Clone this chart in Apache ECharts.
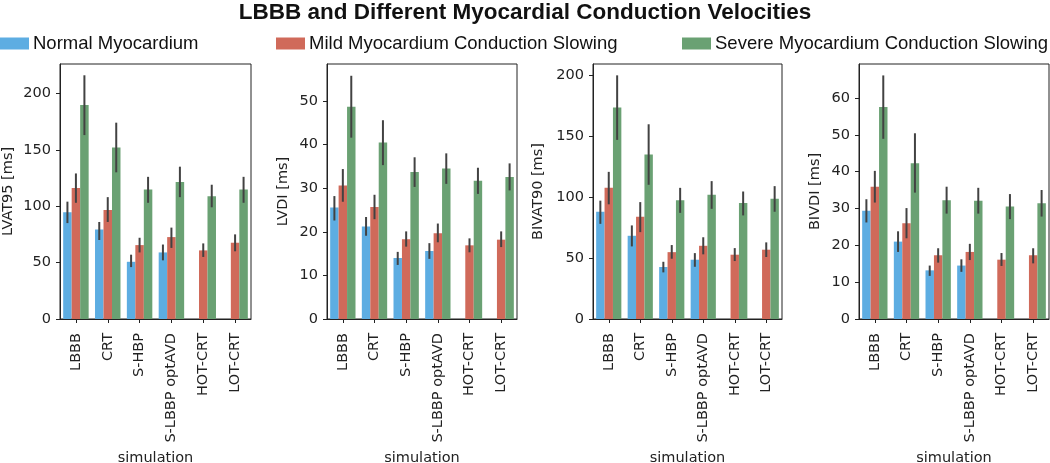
<!DOCTYPE html>
<html>
<head>
<meta charset="utf-8">
<script src="https://cdn.jsdelivr.net/npm/echarts@6/dist/echarts.min.js"></script>
<style>
html,body{margin:0;padding:0;background:#fff;}
#chart{width:1050px;height:463px;}
</style>
</head>
<body>
<div id="chart"></div>
<script>
// ---------- DATA ----------
const categories = ['LBBB', 'CRT', 'S-HBP', 'S-LBBP optAVD', 'HOT-CRT', 'LOT-CRT'];
const seriesNames = ['Normal Myocardium', 'Mild Myocardium Conduction Slowing', 'Severe Myocardium Conduction Slowing'];

// LVAT95 [ms]
const lvat95Normal = [94.7, 79.4, 50.7, 59.0, null, null];
const lvat95Mild = [116.2, 96.5, 65.5, 72.6, 60.8, 67.6];
const lvat95Severe = [189.7, 152.0, 114.7, 121.5, 108.8, 114.7];
const lvat95NormalCI = [[85, 104], [70, 86], [46, 57], [52, 66], null, null];
const lvat95MildCI = [[103, 129], [86, 108], [59, 72], [63, 81], [55, 67], [60, 75]];
const lvat95SevereCI = [[163, 216], [130, 174], [103, 126], [108, 135], [99, 119], [103, 126]];

// LVDI [ms]
const lvdiNormal = [25.6, 21.2, 14.0, 15.6, null, null];
const lvdiMild = [30.6, 25.7, 18.3, 19.7, 16.9, 18.2];
const lvdiSevere = [48.7, 40.5, 33.7, 34.5, 31.7, 32.6];
const lvdiNormalCI = [[22.6, 28.2], [19.1, 23.4], [12.4, 15.4], [13.8, 17.4], null, null];
const lvdiMildCI = [[26.9, 34.4], [22.9, 28.5], [16.6, 20.1], [17.6, 21.9], [15.3, 18.5], [16.5, 20.1]];
const lvdiSevereCI = [[41.6, 55.8], [35.3, 45.6], [30.3, 37.1], [31.0, 38.0], [28.7, 34.7], [29.5, 35.7]];

// BIVAT90 [ms]
const bivat90Normal = [87.9, 68.2, 42.6, 48.6, null, null];
const bivat90Mild = [107.5, 83.8, 54.8, 60.0, 52.7, 56.8];
const bivat90Severe = [173.3, 134.8, 97.4, 101.8, 95.0, 98.5];
const bivat90NormalCI = [[78, 97], [59.5, 76.7], [38.2, 46.9], [42.8, 54], null, null];
const bivat90MildCI = [[94, 120.6], [71.2, 95.8], [49.4, 60.6], [53, 67], [47.5, 58.1], [50.8, 62.8]];
const bivat90SevereCI = [[146.8, 199.7], [110, 159.6], [87, 107.5], [90.3, 113], [84.9, 104.5], [87.9, 108.9]];

// BIVDI [ms]
const bivdiNormal = [29.4, 21.0, 13.2, 14.5, null, null];
const bivdiMild = [35.9, 26.0, 17.3, 18.2, 16.1, 17.3];
const bivdiSevere = [57.5, 42.3, 32.2, 32.1, 30.5, 31.4];
const bivdiNormalCI = [[26.2, 32.5], [18.2, 23.8], [11.7, 14.5], [12.8, 16.2], null, null];
const bivdiMildCI = [[31.6, 40.2], [21.9, 30.1], [15.3, 19.2], [16.0, 20.4], [14.4, 17.9], [15.1, 19.2]];
const bivdiSevereCI = [[48.9, 66.1], [34.3, 50.4], [28.6, 35.9], [28.6, 35.6], [27.1, 33.9], [27.8, 35.0]];

const lvat95Ticks = [0, 50, 100, 150, 200];
const lvdiTicks = [0, 10, 20, 30, 40, 50];
const bivat90Ticks = [0, 50, 100, 150, 200];
const bivdiTicks = [0, 10, 20, 30, 40, 50, 60];

// ---------- LAYOUT / STYLE ----------
const colors = ['#5dade2', '#d06a5a', '#6aa173'];
const panels = [
  {name: 'LVAT95 [ms]', vals: [lvat95Normal, lvat95Mild, lvat95Severe], cis: [lvat95NormalCI, lvat95MildCI, lvat95SevereCI], ticks: lvat95Ticks, max: 226, left: 60, width: 191, nameGap: 44},
  {name: 'LVDI [ms]', vals: [lvdiNormal, lvdiMild, lvdiSevere], cis: [lvdiNormalCI, lvdiMildCI, lvdiSevereCI], ticks: lvdiTicks, max: 58.5, left: 327, width: 190, nameGap: 36},
  {name: 'BIVAT90 [ms]', vals: [bivat90Normal, bivat90Mild, bivat90Severe], cis: [bivat90NormalCI, bivat90MildCI, bivat90SevereCI], ticks: bivat90Ticks, max: 209, left: 593, width: 189, nameGap: 47},
  {name: 'BIVDI [ms]', vals: [bivdiNormal, bivdiMild, bivdiSevere], cis: [bivdiNormalCI, bivdiMildCI, bivdiSevereCI], ticks: bivdiTicks, max: 69.2, left: 859, width: 190, nameGap: 36}
];
const TOP = 64, HEIGHT = 255;
const tickFont = 'DejaVu Sans';
const fs = 14.5;

const grid = [], xAxis = [], yAxis = [], series = [];
panels.forEach((p, gi) => {
  grid.push({left: p.left, top: TOP, width: p.width, height: HEIGHT, show: true, borderColor: '#222', borderWidth: 1,
    backgroundColor: 'transparent', containLabel: false, outerBoundsMode: 'none'});
  xAxis.push({
    type: 'category', gridIndex: gi, data: categories,
    name: 'simulation', nameLocation: 'middle', nameGap: 130,
    nameTextStyle: {fontFamily: tickFont, fontSize: fs, color: '#222'},
    axisLine: {show: true, lineStyle: {color: '#222', width: 1}},
    axisTick: {show: true, alignWithLabel: true, length: 4, lineStyle: {color: '#222'}},
    axisLabel: {rotate: 90, interval: 0, margin: 14, fontFamily: tickFont, fontSize: fs, color: '#222'},
    splitLine: {show: false}
  });
  yAxis.push({
    type: 'value', gridIndex: gi, min: 0, max: p.max,
    name: p.name, nameLocation: 'middle', nameGap: p.nameGap, nameRotate: 90,
    nameTextStyle: {fontFamily: tickFont, fontSize: fs, color: '#222'},
    axisLine: {show: true, lineStyle: {color: '#222', width: 1}},
    axisTick: {show: true, length: 4, lineStyle: {color: '#222'}, customValues: p.ticks},
    axisLabel: {fontFamily: tickFont, fontSize: fs, color: '#222', margin: 9, customValues: p.ticks},
    splitLine: {show: false}
  });
  p.vals.forEach((v, si) => {
    series.push({
      type: 'bar', name: seriesNames[si], xAxisIndex: gi, yAxisIndex: gi,
      data: v.map(d => d == null ? '-' : d),
      barGap: '0%', barCategoryGap: '20%',
      itemStyle: {color: colors[si]},
      emphasis: {disabled: true}, animation: false
    });
  });
  const errData = [];
  p.cis.forEach((arr, si) => {
    arr.forEach((ci, ci_i) => { if (ci) errData.push([ci_i, ci[0], ci[1], si]); });
  });
  series.push({
    type: 'custom', xAxisIndex: gi, yAxisIndex: gi, z: 10, animation: false,
    encode: {x: 0, y: [1, 2]},
    data: errData,
    renderItem: function (params, api) {
      const cat = api.value(0), lo = api.value(1), hi = api.value(2), s = api.value(3);
      const band = api.size([1, 0])[0];
      const bw = band * 0.8 / 3;
      const x = api.coord([cat, 0])[0] + (s - 1) * bw;
      const y1 = api.coord([cat, lo])[1], y2 = api.coord([cat, hi])[1];
      return {type: 'line', shape: {x1: x, y1: y1, x2: x, y2: y2}, style: {stroke: '#424242', lineWidth: 2}};
    }
  });
});

const legendLefts = [0, 276, 682];
const legend = seriesNames.map((n, i) => ({
  data: [n], left: legendLefts[i], top: 34, padding: 0, itemWidth: 29, itemHeight: 12, itemGap: 0,
  icon: 'rect', selectedMode: false,
  textStyle: {fontFamily: 'Liberation Sans', fontSize: 18.5, color: '#111', padding: [0, 0, 0, -1]}
}));

const option = {
  backgroundColor: '#fff',
  animation: false,
  title: {text: 'LBBB and Different Myocardial Conduction Velocities', left: 'center', top: 0, padding: [1, 0, 0, 0],
    textStyle: {fontFamily: 'Liberation Sans', fontWeight: 'bold', fontSize: 22.5, color: '#111'}},
  legend: legend,
  grid: grid, xAxis: xAxis, yAxis: yAxis, series: series
};
const chart = echarts.init(document.getElementById('chart'), null, {renderer: 'canvas'});
chart.setOption(option);
</script>
</body>
</html>
